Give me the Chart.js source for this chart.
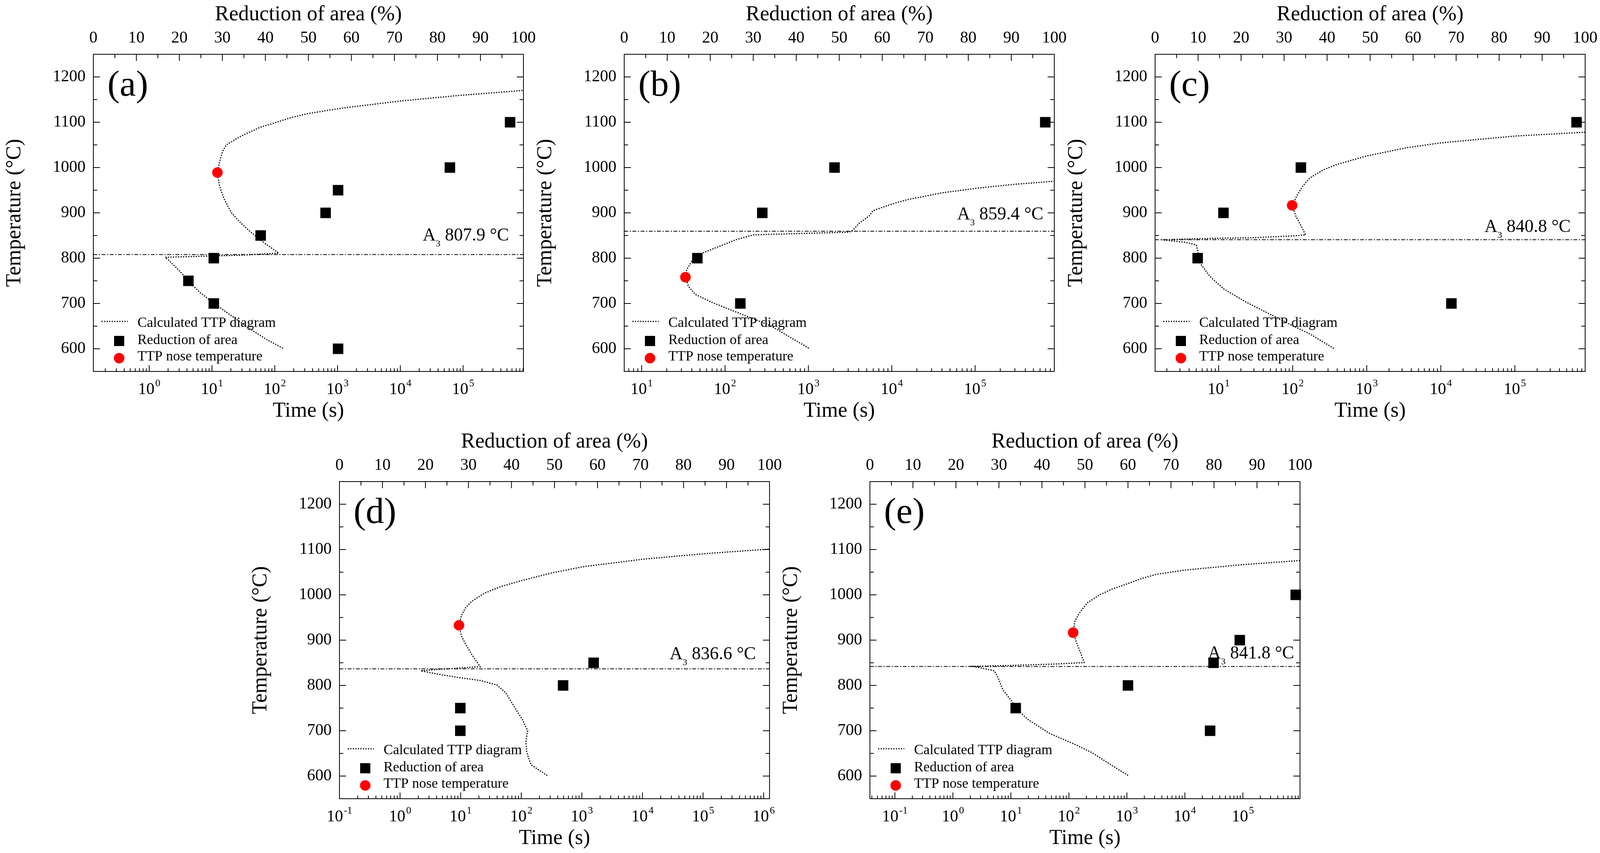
<!DOCTYPE html>
<html lang="en">
<head>
<meta charset="UTF-8">
<title>Calculated TTP diagrams and reduction of area</title>
<script src="https://cdn.jsdelivr.net/npm/chart.js"></script>
<style>
  html, body { margin: 0; padding: 0; background: #fff; overflow: hidden; }
  body { width: 4097px; height: 2184px; position: relative; }
  .panel { position: absolute; }
</style>
</head>
<body>
<script>
// ---- data ----
const panelLabels = ['(a)', '(b)', '(c)', '(d)', '(e)'];
const a3Temps = [807.9, 859.4, 840.8, 836.6, 841.8];
const noseTimes = [12.2, 33.5, 98.4, 9.38, 118.3];
const noseTemps = [989, 758, 916.6, 932.7, 916.5];
const temperatureTicks = [600, 700, 800, 900, 1000, 1100, 1200];
const reductionTicks = [0, 10, 20, 30, 40, 50, 60, 70, 80, 90, 100];
const timeMin = [0.129, 6.18, 1.387, 0.1, 0.0371];
const timeMax = [914000, 890000, 890000, 1250000, 966000];

// calculated TTP curves (time s, temperature °C), in drawing order
const ttpTimeA = [883000, 100000, 10230, 1161, 334, 179.5, 96.4, 58.6, 27.7, 16.9, 14.9, 13.2, 12.2, 13.2, 15.8, 20.3, 27.7, 40.3, 66.1, 116, 27.7, 11.0, 4.3, 1.8, 2.03, 2.61, 3.34, 4.35, 6.24, 11.0, 16.9, 27.7, 45.6, 75.2, 140];
const ttpTempA = [1170, 1160, 1147, 1131, 1119, 1110, 1098, 1089, 1068, 1050, 1037, 1013, 989, 959, 929, 901, 880, 859, 835, 811, 806.5, 805, 803.5, 802, 796, 781, 766, 747, 726, 699, 681, 660, 639, 620, 600];
const ttpTimeB = [902000, 259000, 101000, 39300, 15280, 10280, 5960, 5420, 4070, 3380, 3080, 1040, 351, 219, 136.5, 77.4, 48.3, 39.8, 34.8, 33.5, 36.4, 44.0, 70.5, 136.5, 351, 1040];
const ttpTempB = [970, 962, 954, 944, 929, 920, 905, 894, 877, 861, 857.4, 855, 852.6, 851.4, 841, 823, 808, 793, 775, 758, 738, 720, 702, 681, 651, 600];
const ttpTimeC = [893000, 100000, 9840, 3380, 989, 398, 260, 170, 137, 116.7, 98.4, 110.7, 130, 149.3, 99.5, 27.6, 10, 3.26, 1.71, 3.62, 4.99, 5.27, 5.56, 7.66, 11.75, 22.3, 47.1, 99.5, 170, 366];
const ttpTempC = [1078, 1069.5, 1054.4, 1043.5, 1025.4, 1007, 995, 977, 959, 941, 916.6, 892.4, 871, 851.4, 849, 845, 844, 842, 840.5, 835, 829, 814, 790, 759.5, 732, 705, 678, 651, 633, 600];
const ttpTimeD = [1210000, 101600, 10330, 1033, 323.6, 103.3, 46.9, 24.7, 15.2, 11.9, 10.2, 9.38, 10.2, 11.9, 15.2, 21.0, 9.38, 4.19, 2.2, 4.19, 9.38, 21.0, 39.8, 55.1, 76, 105, 127.4, 119.4, 123.3, 144.9, 276];
const ttpTempD = [1100.9, 1090.7, 1078.7, 1061.9, 1048.6, 1031.8, 1018.6, 1003.6, 985.6, 970.6, 952.6, 932.7, 910.5, 892.5, 868.5, 841.4, 838.4, 835.4, 832.4, 825, 817.4, 811, 801, 784, 754, 724, 700, 676, 652, 625, 600];
const ttpTimeE = [966000, 100000, 10000, 3200, 1862, 1000, 540, 346.7, 209, 149.6, 125.9, 118.3, 137.7, 163, 183.2, 64.6, 12.0, 2.24, 3.13, 5.19, 6.14, 7.26, 10.2, 12.2, 19.95, 46.1, 126.5, 247.7, 485, 1086];
const ttpTempE = [1075.7, 1066.7, 1054.7, 1045, 1036.6, 1024, 1012, 1000.6, 982.6, 958.6, 940.5, 916.5, 892.5, 868.5, 850.5, 847.5, 844.4, 842, 838.4, 832.4, 814.4, 790.4, 766.4, 749.5, 724.3, 694.3, 670, 652, 628, 600];

// measured reduction of area (%, temperature °C)
const reductionA = [96.9, 82.9, 56.9, 54.0, 38.9, 28.0, 22.1, 28.0, 56.9];
const reductionTempA = [1100, 1000, 950, 900, 850, 800, 750, 700, 600];
const reductionB = [97.9, 48.9, 32.1, 17.0, 27.0];
const reductionTempB = [1100, 1000, 900, 800, 700];
const reductionC = [98.0, 33.9, 15.9, 9.9, 68.9];
const reductionTempC = [1100, 1000, 900, 800, 700];
const reductionD = [28.1, 28.1, 52.0, 59.1];
const reductionTempD = [750, 700, 800, 850];
const reductionE = [99.0, 86.0, 79.9, 60.0, 79.1, 33.9];
const reductionTempE = [1000, 900, 850, 800, 700, 750];

// ---- layout ----
const plotLeft = [239, 1598, 2957, 869, 2227];
const plotTop = [139, 139, 139, 1233, 1233];
const PLOT_W = 1101, PLOT_H = 812;
const AXIS_LEFT = 239, AXIS_TOP = 139, AXIS_BOTTOM = 139, PAD_RIGHT = 40;
const a3LabelDx = [37, 28, 37, 35, 15];
const a3LabelDy = [36, 30, 20, 25, 21];
const FONT = "'Liberation Serif', 'Times New Roman', serif";

Chart.defaults.font.family = FONT;
Chart.defaults.color = '#000';

const panels = panelLabels.map((label, i) => ({
  label,
  ttpTime: [ttpTimeA, ttpTimeB, ttpTimeC, ttpTimeD, ttpTimeE][i],
  ttpTemp: [ttpTempA, ttpTempB, ttpTempC, ttpTempD, ttpTempE][i],
  reduction: [reductionA, reductionB, reductionC, reductionD, reductionE][i],
  reductionTemp: [reductionTempA, reductionTempB, reductionTempC, reductionTempD, reductionTempE][i]
}));

// frame, inward ticks, log labels, panel letter, A3 label and legend
const decorPlugin = {
  id: 'decor',
  afterDatasetsDraw(chart) {
    const o = chart.options.plugins.decor;
    const { ctx, chartArea, scales } = chart;
    const { left, right, top, bottom } = chartArea;
    const line = (x1, y1, x2, y2) => { ctx.beginPath(); ctx.moveTo(x1, y1); ctx.lineTo(x2, y2); ctx.stroke(); };

    ctx.save();
    ctx.strokeStyle = '#000';
    ctx.fillStyle = '#000';
    ctx.lineWidth = 2;
    ctx.setLineDash([]);
    ctx.strokeRect(left, top, right - left, bottom - top);

    // temperature ticks, left and right
    const ys = scales.y;
    temperatureTicks.forEach(v => {
      const py = ys.getPixelForValue(v);
      line(left, py, left + 17, py);
      line(right, py, right - 17, py);
      if (v + 50 < ys.max) {
        const pm = ys.getPixelForValue(v + 50);
        line(left, pm, left + 10, pm);
        line(right, pm, right - 10, pm);
      }
    });

    // reduction of area ticks on top
    const xt = scales.x2;
    reductionTicks.forEach(v => {
      const px = xt.getPixelForValue(v);
      line(px, top, px, top + 17);
      if (v + 5 < xt.max) {
        const pm = xt.getPixelForValue(v + 5);
        line(pm, top, pm, top + 10);
      }
    });

    // log time ticks on bottom
    const xs = scales.x;
    const e0 = Math.floor(Math.log10(xs.min)), e1 = Math.ceil(Math.log10(xs.max));
    for (let e = e0; e <= e1; e++) {
      for (let k = 1; k <= 9; k++) {
        const v = k * Math.pow(10, e);
        if (v < xs.min * 0.9999 || v > xs.max * 1.0001) continue;
        const px = xs.getPixelForValue(v);
        line(px, bottom, px, bottom - (k === 1 ? 16 : 8));
      }
    }
    ctx.textAlign = 'left';
    ctx.textBaseline = 'alphabetic';
    xs.ticks.forEach(t => {
      const px = xs.getPixelForValue(t.value);
      const exp = String(Math.round(Math.log10(t.value)));
      ctx.font = '42px ' + FONT;
      const wb = ctx.measureText('10').width;
      ctx.font = '26px ' + FONT;
      const we = ctx.measureText(exp).width;
      const x0 = px - (wb + 2 + we) / 2;
      ctx.font = '42px ' + FONT;
      ctx.fillText('10', x0, bottom + 58);
      ctx.font = '26px ' + FONT;
      ctx.fillText(exp, x0 + wb + 2, bottom + 38);
    });

    // panel letter
    ctx.font = '94px ' + FONT;
    ctx.fillText(o.letter, left + 36, top + 106);

    // A3 label
    const a3y = ys.getPixelForValue(o.a3) - o.a3Dy;
    const rest = ' ' + o.a3.toFixed(1) + ' °C';
    ctx.font = '46px ' + FONT;
    const wA = ctx.measureText('A').width;
    const wR = ctx.measureText(rest).width;
    ctx.font = '24px ' + FONT;
    const w3 = ctx.measureText('3').width;
    const ax = right - o.a3Dx - (wA + w3 + wR);
    ctx.font = '46px ' + FONT;
    ctx.fillText('A', ax, a3y);
    ctx.fillText(rest, ax + wA + w3, a3y);
    ctx.font = '24px ' + FONT;
    ctx.fillText('3', ax + wA, a3y + 15);

    // legend
    const ds = chart.data.datasets;
    const curve = ds[2], squares = ds[1], nose = ds[0];
    ctx.lineWidth = curve.borderWidth;
    ctx.setLineDash(curve.borderDash);
    line(left + 21, bottom - 128, left + 88, bottom - 128);
    ctx.setLineDash([]);
    ctx.fillStyle = squares.backgroundColor;
    ctx.fillRect(left + 53, bottom - 91, 26, 26);
    ctx.fillStyle = nose.backgroundColor;
    ctx.beginPath();
    ctx.arc(left + 66, bottom - 34, 13.5, 0, Math.PI * 2);
    ctx.fill();
    ctx.fillStyle = '#000';
    ctx.font = '36px ' + FONT;
    ctx.fillText(curve.label, left + 113, bottom - 114);
    ctx.fillText(squares.label, left + 113, bottom - 70);
    ctx.fillText(nose.label, left + 113, bottom - 28);
    ctx.restore();
  }
};

panels.forEach((p, i) => {
  const wrap = document.createElement('div');
  wrap.className = 'panel';
  wrap.style.left = (plotLeft[i] - AXIS_LEFT) + 'px';
  wrap.style.top = (plotTop[i] - AXIS_TOP) + 'px';
  const canvas = document.createElement('canvas');
  const cw = AXIS_LEFT + PLOT_W + PAD_RIGHT, ch = AXIS_TOP + PLOT_H + AXIS_BOTTOM;
  canvas.width = cw;
  canvas.height = ch;
  canvas.style.width = cw + 'px';
  canvas.style.height = ch + 'px';
  wrap.appendChild(canvas);
  document.body.appendChild(wrap);

  const titleFont = { family: FONT, size: 54, lineHeight: 1.2 };
  const tickFont = { family: FONT, size: 42, lineHeight: 1 };

  new Chart(canvas, {
    type: 'scatter',
    data: {
      datasets: [
        {
          label: 'TTP nose temperature',
          data: [{ x: noseTimes[i], y: noseTemps[i] }],
          xAxisID: 'x', yAxisID: 'y',
          pointStyle: 'circle', pointRadius: 13.5,
          backgroundColor: '#ff0000', borderWidth: 0, clip: false
        },
        {
          label: 'Reduction of area',
          data: p.reduction.map((r, k) => ({ x: r, y: p.reductionTemp[k] })),
          xAxisID: 'x2', yAxisID: 'y',
          pointStyle: 'rect', pointRadius: 19,
          backgroundColor: '#000000', borderWidth: 0, clip: false
        },
        {
          label: 'Calculated TTP diagram',
          data: p.ttpTime.map((t, k) => ({ x: t, y: p.ttpTemp[k] })),
          xAxisID: 'x', yAxisID: 'y',
          showLine: true, pointRadius: 0,
          borderColor: '#000000', borderWidth: 3, borderDash: [3, 3.5]
        },
        {
          label: 'A3',
          data: [{ x: 0, y: a3Temps[i] }, { x: 100, y: a3Temps[i] }],
          xAxisID: 'x2', yAxisID: 'y',
          showLine: true, pointRadius: 0,
          borderColor: '#000000', borderWidth: 2, borderDash: [10, 4, 3, 4]
        }
      ]
    },
    options: {
      responsive: false,
      animation: false,
      devicePixelRatio: 1,
      events: [],
      layout: { padding: { left: 0, top: 0, right: PAD_RIGHT, bottom: 0 } },
      plugins: {
        legend: { display: false },
        tooltip: { enabled: false },
        decor: { letter: p.label, a3: a3Temps[i], a3Dx: a3LabelDx[i], a3Dy: a3LabelDy[i] }
      },
      scales: {
        x: {
          type: 'logarithmic', position: 'bottom',
          min: timeMin[i], max: timeMax[i],
          grid: { display: false, drawTicks: false }, border: { display: false },
          ticks: { display: false },
          afterBuildTicks: s => {
            const out = [];
            for (let e = Math.ceil(Math.log10(s.min) - 1e-9); Math.pow(10, e) <= s.max * 1.0001; e++) {
              out.push({ value: Math.pow(10, e) });
            }
            s.ticks = out;
          },
          afterFit: s => { s.height = AXIS_BOTTOM; s.paddingLeft = 0; s.paddingRight = 0; },
          title: { display: true, text: 'Time (s)', color: '#000', font: titleFont, padding: { top: 0, bottom: 5 } }
        },
        x2: {
          type: 'linear', position: 'top', min: 0, max: 100,
          grid: { display: false, drawTicks: false }, border: { display: false },
          afterBuildTicks: s => { s.ticks = reductionTicks.map(v => ({ value: v })); },
          ticks: { color: '#000', font: tickFont, padding: 20, autoSkip: false, maxRotation: 0, callback: v => String(v) },
          afterFit: s => { s.height = AXIS_TOP; s.paddingLeft = 0; s.paddingRight = 0; },
          title: { display: true, text: 'Reduction of area (%)', color: '#000', font: titleFont, padding: { top: 5, bottom: 0 } }
        },
        y: {
          type: 'linear', position: 'left', min: 550, max: 1250,
          grid: { display: false, drawTicks: false }, border: { display: false },
          afterBuildTicks: s => { s.ticks = temperatureTicks.map(v => ({ value: v })); },
          ticks: { color: '#000', font: tickFont, padding: 20, autoSkip: false, callback: v => String(v) },
          afterFit: s => { s.width = AXIS_LEFT; s.paddingTop = 0; s.paddingBottom = 0; },
          title: { display: true, text: 'Temperature (°C)', color: '#000', font: titleFont, padding: { top: 5, bottom: 0 } }
        }
      }
    },
    plugins: [decorPlugin]
  });
});
</script>
</body>
</html>
